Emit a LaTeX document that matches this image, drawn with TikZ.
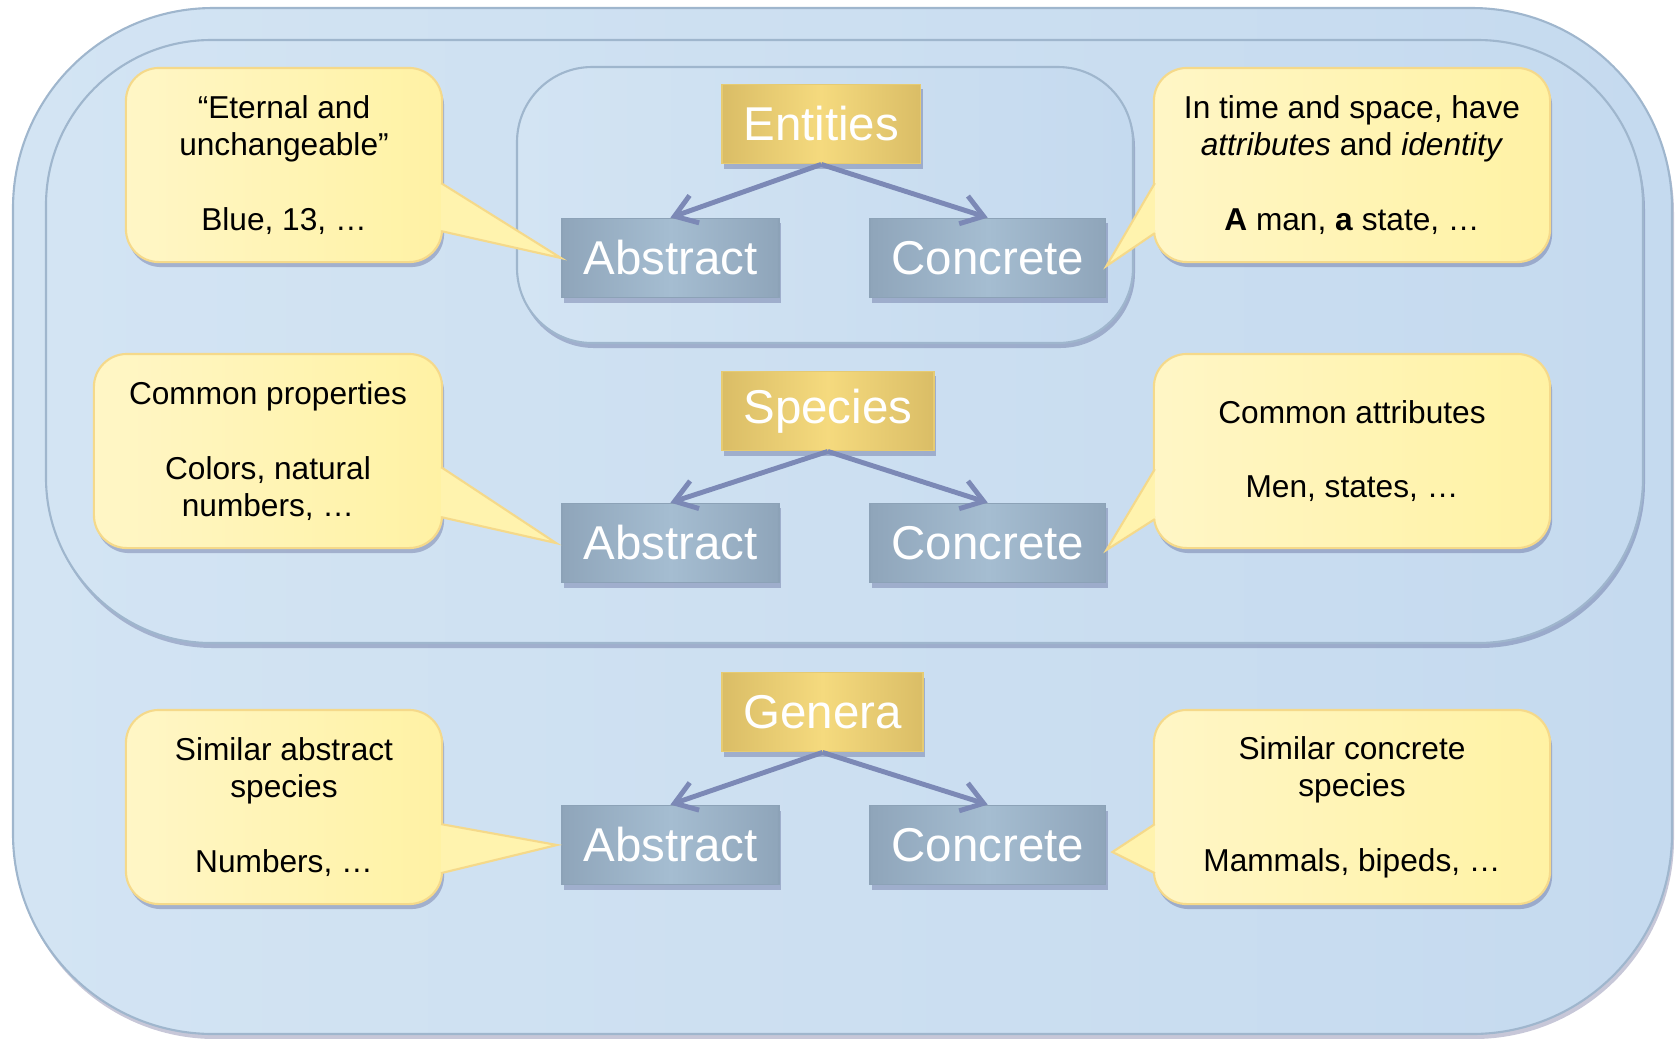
\documentclass[tikz,border=0pt]{standalone}
\usepackage{fontspec}
\setmainfont{Liberation Sans}
\usetikzlibrary{arrows.meta,shadows,calc}

\definecolor{paneledge}{HTML}{9FB6CD}
\definecolor{panellight}{HTML}{D3E4F3}
\definecolor{paneldark}{HTML}{C5DAEF}
\definecolor{goldedge}{HTML}{E6CB72}
\definecolor{goldlight}{HTML}{F5DA7E}
\definecolor{golddark}{HTML}{DABD66}
\definecolor{slateedge}{HTML}{8CA2B7}
\definecolor{slatelight}{HTML}{A5BDD1}
\definecolor{slatedark}{HTML}{8FA5BA}
\definecolor{bubbleedge}{HTML}{F5D98A}
\definecolor{bubblelight}{HTML}{FFF6C6}
\definecolor{bubbledark}{HTML}{FFF2A4}
\definecolor{branchblue}{HTML}{7C89B6}

\begin{document}
\begin{tikzpicture}[x=0.01cm, y=-0.01cm,
    panel/.style={draw=paneledge, line width=0.6pt, left color=panellight, right color=paneldark},
    lowshadow/.style={drop shadow={shadow xshift=0.02cm, shadow yshift=-0.05cm, opacity=0.22, fill=black!70!blue}},
    level/.style={rectangle, draw=goldedge, line width=0.5pt, left color=golddark, right color=golddark, middle color=goldlight,
        text=white, font=\fontsize{13.5}{16}\selectfont, minimum height=0.79cm, inner xsep=0.215cm, anchor=west, lowshadow},
    kind/.style={rectangle, draw=slateedge, line width=0.5pt, left color=slatedark, right color=slatedark, middle color=slatelight,
        text=white, font=\fontsize{13.5}{16}\selectfont, minimum height=0.79cm, inner xsep=0.215cm, anchor=west, lowshadow},
    bubble/.style={rectangle, rounded corners=0.33cm, draw=bubbleedge, line width=0.6pt, left color=bubblelight, right color=bubbledark,
        align=center, font=\fontsize{9}{10.6}\selectfont, minimum height=1.94cm, inner sep=2pt, lowshadow},
    tail/.style={fill=bubbledark!70!bubblelight, draw=bubbleedge, line width=0.6pt, line join=miter},
    branch/.style={draw=branchblue, line width=1.4pt, -{Straight Barb[length=2.1mm,width=2.9mm]}}
  ]
        \useasboundingbox (0,0) rectangle (1675,1038);

        % Panels
        \draw[panel, rounded corners=2cm, lowshadow] (13,8) rectangle (1672,1034);
        \draw[panel, rounded corners=1.65cm, lowshadow] (46,40) rectangle (1643,643);
        \draw[panel, rounded corners=0.75cm, lowshadow] (517,67) rectangle (1133,343);

        % Nodes
        \node (entities) [level] at (721,124) {Entities};
        \node (abs1) [kind] at (561,258) {Abstract};
        \node (con1) [kind] at (869,258) {Concrete};

        \node (species) [level] at (721,411) {Species};
        \node (abs2) [kind] at (561,543) {Abstract};
        \node (con2) [kind] at (869,543) {Concrete};

        \node (genera) [level] at (721,712) {Genera};
        \node (abs3) [kind] at (561,845) {Abstract};
        \node (con3) [kind] at (869,845) {Concrete};

        % Callouts
        \node (tl) [bubble, minimum width=3.16cm] at (284,165) {“Eternal and\\unchangeable”\\[\baselineskip]Blue, 13, …};
        \node (tr) [bubble, minimum width=3.96cm] at (1352,165) {In time and space, have\\\textit{attributes} and \textit{identity}\\[\baselineskip]\textbf{A} man, \textbf{a} state, …};
        \node (ml) [bubble, minimum width=3.48cm] at (268,451) {Common properties\\[\baselineskip]Colors, natural\\numbers, …};
        \node (mr) [bubble, minimum width=3.96cm] at (1352,451) {Common attributes\\[\baselineskip]Men, states, …};
        \node (bl) [bubble, minimum width=3.16cm] at (284,807) {Similar abstract\\species\\[\baselineskip]Numbers, …};
        \node (br) [bubble, minimum width=3.96cm] at (1352,807) {Similar concrete\\species\\[\baselineskip]Mammals, bipeds, …};

        % Callout tails
        \filldraw[tail] ($(tl.south east)+(-2,-80)$) -- (abs1.west) -- ($(tl.south east)+(-2,-32)$);
        \filldraw[tail] ($(tr.south west)+(2,-80)$) -- ([yshift=-0.08cm]con1.east) -- ($(tr.south west)+(2,-30)$);
        \filldraw[tail] ($(ml.south east)+(-2,-82)$) -- ([xshift=-0.05cm]abs2.west) -- ($(ml.south east)+(-2,-32)$);
        \filldraw[tail] ($(mr.south west)+(2,-80)$) -- ([yshift=-0.07cm]con2.east) -- ($(mr.south west)+(2,-30)$);
        \filldraw[tail] ($(bl.south east)+(-2,-81)$) -- ([xshift=-0.04cm]abs3.west) -- ($(bl.south east)+(-2,-32)$);
        \filldraw[tail] ($(br.south west)+(2,-81)$) -- ([xshift=0.06cm,yshift=-0.07cm]con3.east) -- ($(br.south west)+(2,-32)$);

        % Arrows
        \draw[branch] (entities.south) -- (abs1.north);
        \draw[branch] (entities.south) -- (con1.north);
        \draw[branch] (species.south) -- (abs2.north);
        \draw[branch] (species.south) -- (con2.north);
        \draw[branch] (genera.south) -- (abs3.north);
        \draw[branch] (genera.south) -- (con3.north);
    \end{tikzpicture}
\end{document}
